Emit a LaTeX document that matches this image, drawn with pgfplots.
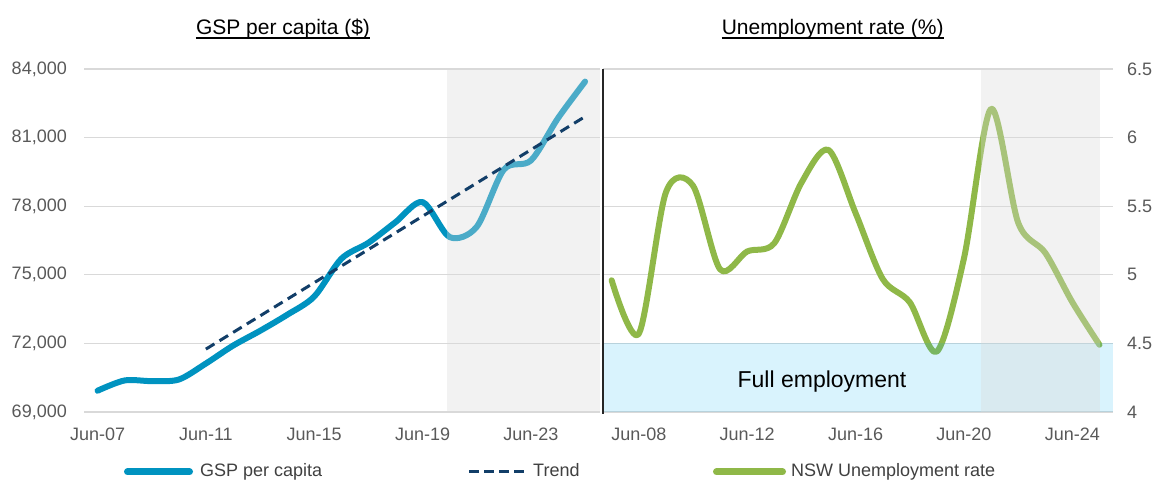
\documentclass[border=0pt]{standalone}
\usepackage{pgfplots}
\pgfplotsset{compat=1.18}
\usepackage{fontspec}
\setmainfont{Liberation Sans}
\definecolor{gspblue}{RGB}{0,147,192}
\definecolor{trendnavy}{RGB}{18,62,104}
\definecolor{nswgreen}{RGB}{143,184,72}
\definecolor{gridgray}{RGB}{217,217,217}
\definecolor{ticktext}{RGB}{89,89,89}
\definecolor{legtext}{RGB}{64,64,64}
\definecolor{bandblue}{RGB}{0,176,240}

\pgfplotstableread{
x y
2007.5 69930
2008.5 70380
2009.5 70350
2010.5 70420
2011.5 71120
2012.5 71900
2013.5 72550
2014.5 73250
2015.5 74050
2016.5 75700
2017.5 76400
2018.5 77300
2019.5 78180
2020.5 76650
2021.5 77100
2022.5 79600
2023.5 80000
2024.5 81850
2025.5 83450
}\gsp

\pgfplotstableread{
x y
2007.5 4.96
2008.5 4.57
2009.5 5.60
2010.5 5.65
2011.5 5.04
2012.5 5.17
2013.5 5.23
2014.5 5.67
2015.5 5.91
2016.5 5.45
2017.5 4.97
2018.5 4.80
2019.5 4.44
2020.5 5.12
2021.5 6.21
2022.5 5.38
2023.5 5.16
2024.5 4.80
2025.5 4.49
}\unemp

\begin{document}
\begin{tikzpicture}[x=1pt,y=1pt]
\useasboundingbox (0,0) rectangle (1154,481);
\pgfplotsset{
  common/.style={
    scale only axis, anchor=south west, height=343pt,
    axis line style={draw=none}, major tick length=0pt,
    ymajorgrids, grid style={color=gridgray, line width=1.2pt},
    tick label style={font=\fontsize{18}{20}\selectfont, text=ticktext},
    /pgf/number format/assume math mode=true,
    xticklabel style={anchor=north, inner sep=0pt, yshift=-16pt},
    clip=false,
  }
}
% Left: GSP per capita
\begin{axis}[common, at={(84pt,69pt)}, width=516pt,
  xmin=2007, xmax=2026.05, ymin=69000, ymax=84000,
  ytick={69000,72000,75000,78000,81000,84000},
  scaled y ticks=false,
  /pgf/number format/1000 sep={,},
  yticklabel style={anchor=east, inner sep=0pt, xshift=-17pt},
  xtick={2007.5,2011.5,2015.5,2019.5,2023.5},
  xticklabels={Jun-07,Jun-11,Jun-15,Jun-19,Jun-23},
]
\addplot[gspblue, line width=6pt, line cap=round, line join=round, smooth, tension=0.5] table[x=x,y=y] {\gsp};
\addplot[draw=none, fill=gridgray, fill opacity=0.35] coordinates {(2020.39,84000) (2026.05,84000)} \closedcycle;
\addplot[trendnavy, line width=3pt, dash pattern=on 10pt off 6pt] coordinates {(2011.5,71750) (2025.5,81920)};
\end{axis}
% Right: Unemployment rate
\begin{axis}[common, at={(603pt,69pt)}, width=510pt,
  xmin=2007.18, xmax=2026.0, ymin=4, ymax=6.5,
  ytick={4,4.5,5,5.5,6,6.5},
  yticklabel pos=right,
  yticklabel style={anchor=west, inner sep=0pt, xshift=14pt},
  xtick={2008.5,2012.5,2016.5,2020.5,2024.5},
  xticklabels={Jun-08,Jun-12,Jun-16,Jun-20,Jun-24},
]
\addplot[nswgreen, line width=6pt, line cap=round, line join=round, smooth, tension=0.5] table[x=x,y=y] {\unemp};
\addplot[draw=none, fill=bandblue, fill opacity=0.15] coordinates {(2007.18,4.5) (2026.0,4.5)} \closedcycle;
\addplot[draw=none, fill=gridgray, fill opacity=0.35] coordinates {(2021.12,6.5) (2025.52,6.5)} \closedcycle;
\draw[black!85, line width=2pt] ([yshift=-2pt]rel axis cs:0,0) -- (rel axis cs:0,1);
\end{axis}
% Titles
\node[anchor=base, inner sep=0pt, font=\fontsize{21}{24}\selectfont] (t1) at (283,446.5) {GSP per capita (\$)};
\draw[line width=1.4pt] ([yshift=-3.4pt]t1.base west) -- ([yshift=-3.4pt]t1.base east);
\node[anchor=base, inner sep=0pt, font=\fontsize{21}{24}\selectfont] (t2) at (832.7,446.5) {Unemployment rate (\%)};
\draw[line width=1.4pt] ([yshift=-3.4pt]t2.base west) -- ([yshift=-3.4pt]t2.base east);
% Full employment label
\node[font=\fontsize{23}{26}\selectfont] at (822,99) {Full employment};
% Legend
\draw[gspblue, line width=7pt, line cap=round] (127.5,9) -- (189.5,9);
\node[anchor=base west, inner sep=0pt, font=\fontsize{18}{20}\selectfont, text=legtext] at (200,4) {GSP per capita};
\draw[trendnavy, line width=3pt, dash pattern=on 10pt off 5pt] (469,9) -- (527,9);
\node[anchor=base west, inner sep=0pt, font=\fontsize{18}{20}\selectfont, text=legtext] at (533,4) {Trend};
\draw[nswgreen, line width=7pt, line cap=round] (716.5,9) -- (782.5,9);
\node[anchor=base west, inner sep=0pt, font=\fontsize{18}{20}\selectfont, text=legtext] at (791,4) {NSW Unemployment rate};
\end{tikzpicture}
\end{document}
